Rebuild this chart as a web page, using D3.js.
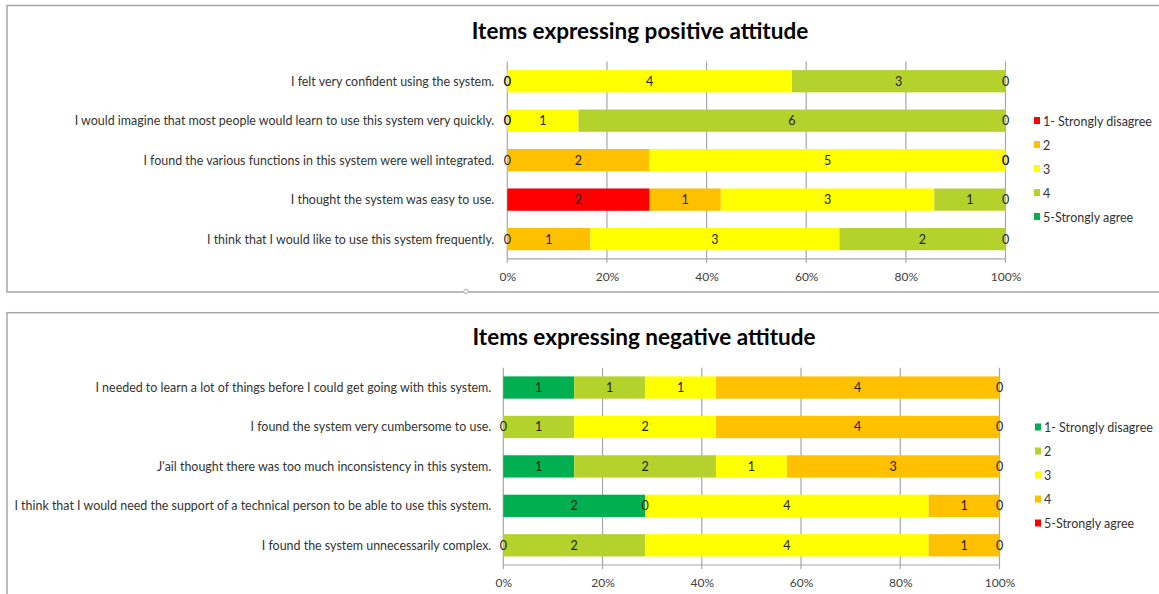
<!DOCTYPE html>
<html>
<head>
<meta charset="utf-8">
<script src="https://cdn.jsdelivr.net/npm/d3@7"></script>
<style>
  html, body { margin: 0; padding: 0; background: #fff; }
  svg { display: block; }
  text { font-family: Lato, "Open Sans", sans-serif; }
</style>
</head>
<body>
<svg id="chart" width="1159" height="594"></svg>
<script>
// ---------- DATA ----------
const posTitle = "Items expressing positive attitude";
const posCategories = [
  "I felt very confident using the system.",
  "I would imagine that most people would learn to use this system very quickly.",
  "I found the various functions in this system were well integrated.",
  "I thought the system was easy to use.",
  "I think that I would like to use this system frequently."
];
const posSeries = ["1- Strongly disagree", "2", "3", "4", "5-Strongly agree"];
const posColors = ["#ff0000", "#ffc000", "#ffff00", "#b5d22c", "#00b050"];
const posS1 = [0, 0, 0, 2, 0];
const posS2 = [0, 0, 2, 1, 1];
const posS3 = [4, 1, 5, 3, 3];
const posS4 = [3, 6, 0, 1, 2];
const posS5 = [0, 0, 0, 0, 0];

const negTitle = "Items expressing negative attitude";
const negCategories = [
  "I needed to learn a lot of things before I could get going with this system.",
  "I found the system very cumbersome to use.",
  "J'ail thought there was too much inconsistency in this system.",
  "I think that I would need the support of a technical person to be able to use this system.",
  "I found the system unnecessarily complex."
];
const negSeries = ["1- Strongly disagree", "2", "3", "4", "5-Strongly agree"];
const negColors = ["#00b050", "#b5d22c", "#ffff00", "#ffc000", "#ff0000"];
const negS1 = [1, 0, 1, 2, 0];
const negS2 = [1, 1, 2, 0, 2];
const negS3 = [1, 2, 1, 4, 4];
const negS4 = [4, 4, 3, 1, 1];
const negS5 = [0, 0, 0, 0, 0];

const xTicks = [0, 0.2, 0.4, 0.6, 0.8, 1];

// ---------- DRAW ----------
const svg = d3.select("#chart");
svg.append("rect").attr("width", 1159).attr("height", 594).attr("fill", "#fff");

function drawPanel(opt) {
  const g = svg.append("g");
  // panel frame
  g.append("rect")
    .attr("x", opt.frame[0]).attr("y", opt.frame[1])
    .attr("width", opt.frame[2]).attr("height", opt.frame[3])
    .attr("fill", "#fff").attr("stroke", "#a6a6a6").attr("stroke-width", 1.5);

  // title
  g.append("text")
    .attr("x", opt.titleX).attr("y", opt.titleY)
    .attr("text-anchor", "middle")
    .attr("font-size", 22.5).attr("font-weight", "bold").attr("fill", "#000")
    .text(opt.title);

  const x = d3.scaleLinear().domain([0, 1]).range([opt.x0, opt.x1]);
  const y = d3.scaleBand().domain(opt.categories).range([opt.y0, opt.y1]).paddingInner(0.435).paddingOuter(0.2175);

  // stacked data
  const rows = opt.categories.map((c, i) => {
    const vals = opt.series.map(s => s[i]);
    const total = d3.sum(vals);
    let acc = 0;
    return vals.map((v, k) => {
      const start = acc / total;
      acc += v;
      return { cat: c, k, v, a: start, b: acc / total };
    });
  });

  // gridlines + tick marks
  const grid = g.append("g");
  grid.selectAll("line.grid").data(xTicks).join("line")
    .attr("x1", d => x(d)).attr("x2", d => x(d))
    .attr("y1", opt.y0).attr("y2", opt.y1 + 4)
    .attr("stroke", "#a6a6a6").attr("stroke-width", 1.2);

  // bars
  const bars = g.append("g");
  rows.forEach(r => {
    bars.selectAll(null).data(r.filter(d => d.v > 0)).join("rect")
      .attr("x", d => x(d.a)).attr("width", d => x(d.b) - x(d.a))
      .attr("y", d => y(d.cat)).attr("height", y.bandwidth())
      .attr("fill", d => opt.colors[d.k]);
  });

  // bottom axis line
  g.append("line")
    .attr("x1", x(0)).attr("x2", x(1))
    .attr("y1", opt.y1).attr("y2", opt.y1)
    .attr("stroke", "#a6a6a6").attr("stroke-width", 1.2);

  // axis tick labels
  const axis = d3.axisBottom(x).tickValues(xTicks).tickFormat(d3.format(".0%")).tickSize(0).tickPadding(0);
  const ax = g.append("g").attr("transform", `translate(0,${opt.y1 + 22})`).call(axis);
  ax.select(".domain").remove();
  ax.selectAll("text").attr("font-size", 12).attr("fill", "#404040").attr("font-family", "Lato, sans-serif").attr("dy", 0);

  // value labels
  rows.forEach(r => {
    g.selectAll(null).data(r).join("text")
      .attr("x", d => (x(d.a) + x(d.b)) / 2)
      .attr("y", d => y(d.cat) + y.bandwidth() / 2)
      .attr("dy", "0.36em")
      .attr("text-anchor", "middle")
      .attr("font-size", 12.5).attr("fill", "#222")
      .text(d => d.v);
  });

  // category labels
  g.selectAll(null).data(opt.categories).join("text")
    .attr("x", opt.x0 - opt.labelGap)
    .attr("y", d => y(d) + y.bandwidth() / 2)
    .attr("dy", "0.36em")
    .attr("text-anchor", "end")
    .attr("font-size", 12.45).attr("fill", "#333")
    .text(d => d);

  // legend
  const lg = g.append("g");
  opt.legend.forEach((name, k) => {
    const ly = opt.legendY + k * 24;
    lg.append("rect").attr("x", opt.legendX).attr("y", ly - 4).attr("width", 6).attr("height", 7)
      .attr("fill", opt.colors[k]);
    lg.append("text").attr("x", opt.legendX + 9).attr("y", ly).attr("dy", "0.36em")
      .attr("font-size", 12.5).attr("fill", "#333").text(name);
  });
}

drawPanel({
  frame: [7, 5.5, 1160, 286.5],
  title: posTitle, titleX: 640, titleY: 39,
  categories: posCategories,
  series: [posS1, posS2, posS3, posS4, posS5],
  colors: posColors, legend: posSeries,
  x0: 507.3, x1: 1005.5, y0: 61.5, y1: 258.8,
  labelGap: 13, legendX: 1034, legendY: 121
});

drawPanel({
  frame: [7, 312.7, 1160, 300],
  title: negTitle, titleX: 644, titleY: 345,
  categories: negCategories,
  series: [negS1, negS2, negS3, negS4, negS5],
  colors: negColors, legend: negSeries,
  x0: 503.3, x1: 999.5, y0: 367.8, y1: 565,
  labelGap: 12, legendX: 1035, legendY: 427.5
});

// small selection handle on top frame
svg.append("circle").attr("cx", 466).attr("cy", 291.5).attr("r", 2.2)
  .attr("fill", "#fff").attr("stroke", "#b0b0b0").attr("stroke-width", 1);
</script>
</body>
</html>
